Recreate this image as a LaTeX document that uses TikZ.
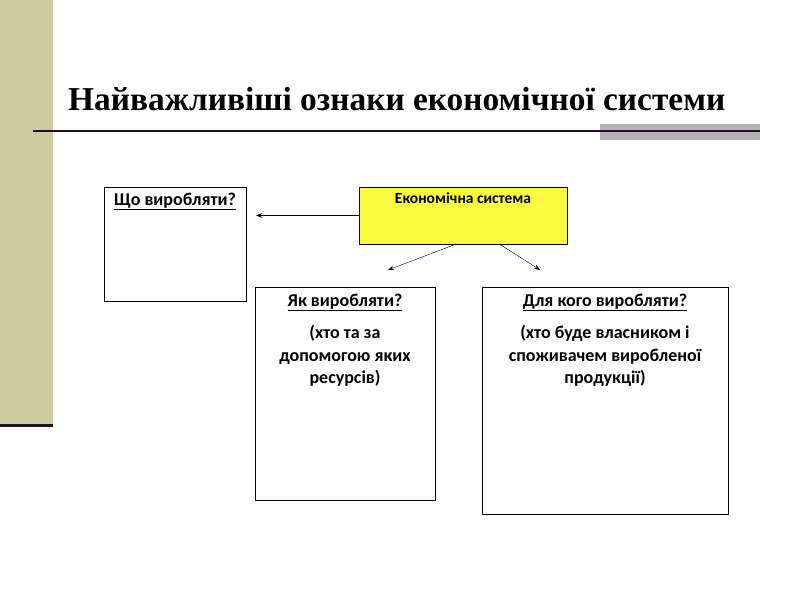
\documentclass[tikz,border=0pt]{standalone}
\usepackage{fontspec}
\setmainfont{Carlito}
\newfontfamily\titlefont{Liberation Serif}
\usetikzlibrary{arrows.meta}

\definecolor{barolive}{RGB}{204,204,158}
\definecolor{darkplum}{RGB}{42,10,42}
\definecolor{bargray}{RGB}{178,178,178}
\definecolor{boxyellow}{RGB}{250,250,64}

\begin{document}
\begin{tikzpicture}[x=1pt, y=-1pt, >={Stealth[length=6pt,width=4.5pt]},
    qbox/.style={draw=black, line width=0.9pt, inner sep=0pt},
    qtext/.style={anchor=north, align=center, inner sep=0pt,
        font=\bfseries\fontsize{18}{22.5}\selectfont}]
    \useasboundingbox (0,0) rectangle (800,600);

    % Ліва смуга
    \fill[barolive] (0,0) rectangle (53,425);
    \draw[darkplum, line width=3pt] (0,425) -- (53,425);

    % Заголовок
    \node[anchor=base west, inner sep=0pt,
        font=\titlefont\bfseries\fontsize{33.4}{38}\selectfont] (title) at (68,110)
        {Найважливіші ознаки економічної системи};
    \fill[bargray] (600,124) rectangle (760,140);
    \draw[darkplum, line width=2pt] (33,131) -- (760,131);

    % --- БЛОКИ ---
    \node[qbox, fill=boxyellow, minimum width=208pt, minimum height=57pt] (econ) at (463,215.5) {};
    \node[qbox, minimum width=142pt, minimum height=114pt] (what) at (175,244) {};
    \node[qbox, minimum width=180pt, minimum height=213pt] (how) at (345,393.5) {};
    \node[qbox, minimum width=246pt, minimum height=227pt] (whom) at (605,400.5) {};

    % Тексти блоків
    \node[qtext, font=\bfseries\fontsize{15.5}{18}\selectfont] (econtxt) at ([yshift=-6pt]econ.north) {Економічна система};
    \node[qtext] (whattxt) at ([yshift=-6pt]what.north) {\underline{Що виробляти?}};
    \node[qtext] (howtxt) at ([yshift=-7pt]how.north)
        {\underline{Як виробляти?}\\[10pt](хто та за\\допомогою яких\\ресурсів)};
    \node[qtext] (whomtxt) at ([yshift=-7pt]whom.north)
        {\underline{Для кого виробляти?}\\[10pt](хто буде власником і\\споживачем виробленої\\продукції)};

    % --- СТРІЛКИ ---
    \coordinate (whattip) at (256,215.5);
    \coordinate (howtip) at (388,270);
    \coordinate (whomtip) at (540,270);
    \draw[->] (econ.west) -- (whattip);
    \draw[->] ([xshift=-8pt]econ.south) -- (howtip);
    \draw[->] ([xshift=37pt]econ.south) -- (whomtip);
\end{tikzpicture}
\end{document}
